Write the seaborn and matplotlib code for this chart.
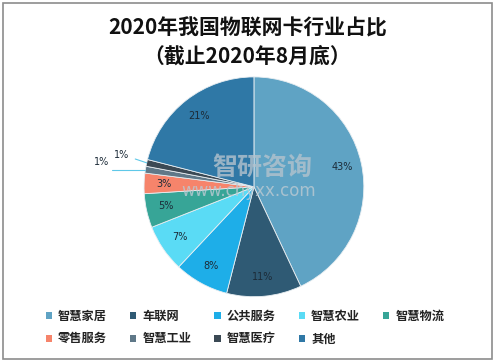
import matplotlib
matplotlib.use("Agg")
import matplotlib.pyplot as plt
import seaborn as sns
import numpy as np
from matplotlib.patches import Rectangle, Patch

sns.set_theme(style="white")
plt.rcParams['font.family'] = ['Noto Sans CJK SC', 'DejaVu Sans']

categories = ["智慧家居", "车联网", "公共服务", "智慧农业", "智慧物流",
              "零售服务", "智慧工业", "智慧医疗", "其他"]
values = [43, 11, 8, 7, 5, 3, 1, 1, 21]
colors = ["#5fa3c4", "#2f5a74", "#1eaee8", "#5adbf5", "#37a597",
          "#f6846b", "#5f7888", "#3b4954", "#2f78a6"]
title = "2020年我国物联网卡行业占比\n（截止2020年8月底）"

fig = plt.figure(figsize=(4.95, 3.61), dpi=100)
fig.patch.set_facecolor("white")
fig.add_artist(Rectangle((0.006, 0.006), 0.988, 0.986, transform=fig.transFigure,
                         fill=False, edgecolor="#8c8c8c", linewidth=1.2))

ax = fig.add_axes([0.291, 0.178, 0.444, 0.609])
wedges, _ = ax.pie(values, colors=colors, startangle=90, counterclock=False,
                   wedgeprops=dict(edgecolor="#e8eef2", linewidth=0.6))
ax.set_xlim(-1, 1)
ax.set_ylim(-1, 1)
ax.set_aspect("equal")
ax.axis("off")

lab_kw = dict(fontsize=7, color="#1c2b38", family=["DejaVu Sans"], clip_on=False)
line_kw = dict(color="#5fc8e8", lw=0.8, clip_on=False)

for i, w in enumerate(wedges):
    mid = np.deg2rad((w.theta1 + w.theta2) / 2)
    lbl = f"{values[i]}%"
    if values[i] > 1:
        r = 0.82
        ax.text(r * np.cos(mid), r * np.sin(mid), lbl, ha="center", va="center", **lab_kw)

# small slices (1%) with leader lines
w6, w7 = wedges[6], wedges[7]
m6 = np.deg2rad((w6.theta1 + w6.theta2) / 2)
m7 = np.deg2rad((w7.theta1 + w7.theta2) / 2)
x6, y6 = np.cos(m6), np.sin(m6)
x7, y7 = np.cos(m7), np.sin(m7)
ax.plot([x6, -1.29], [y6, y6], **line_kw)
ax.text(-1.39, y6 + 0.065, f"{values[6]}%", ha="center", va="center", **lab_kw)
ax.plot([x7, -1.08], [y7, y7 + 0.035], **line_kw)
ax.text(-1.2, y7 + 0.075, f"{values[7]}%", ha="center", va="center", **lab_kw)

# watermark
fig.text(0.53, 0.535, "智研咨询", ha="center", va="center", fontsize=18,
         color="#b4c3cd", alpha=0.8, weight="bold")
fig.text(0.502, 0.471, "www.chyxx.com", ha="center", va="center", fontsize=12,
         color="#bccad3", alpha=0.8, family=["DejaVu Sans"])

fig.text(0.5, 0.883, title, ha="center", va="center", fontsize=15, weight="bold",
         color="#111111", linespacing=1.45)

order = [0, 5, 1, 6, 2, 7, 3, 8, 4]
handles = [Patch(facecolor=colors[i], edgecolor="none") for i in order]
labels = [categories[i] for i in order]
leg = fig.legend(handles, labels, loc="center", bbox_to_anchor=(0.495, 0.092),
                 ncol=5, frameon=False, prop=dict(size=8.8, weight="bold"),
                 handlelength=0.5, handleheight=0.5, handletextpad=0.5,
                 columnspacing=1.9, labelspacing=0.75)
for t in leg.get_texts():
    t.set_color("#222222")

fig.savefig("out.png", dpi=100)
